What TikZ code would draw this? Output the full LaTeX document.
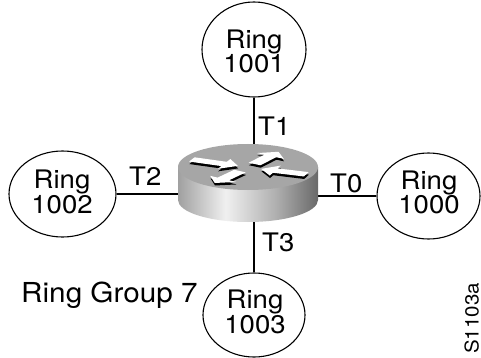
\documentclass[tikz,border=0pt]{standalone}
\usepackage{fontspec}
\setmainfont[FakeStretch=1.08]{TeX Gyre Heros}
\usetikzlibrary{shapes.geometric}
\definecolor{sideA}{RGB}{160,160,160}
\definecolor{sideB}{RGB}{240,240,240}
\definecolor{sideC}{RGB}{175,175,175}
\definecolor{sideD}{RGB}{105,105,105}
\definecolor{topC}{RGB}{166,166,166}
\pgfdeclarehorizontalshading{rtside}{100bp}{color(0bp)=(sideA); color(25bp)=(sideA); color(42bp)=(sideB); color(60bp)=(sideC); color(75bp)=(sideD); color(100bp)=(sideD)}
\tikzset{
  ring/.style={draw, ellipse, line width=1.1pt, fill=white, inner sep=0pt},
  rtext/.style={inner sep=0pt, align=center, font=\fontsize{25.5}{23.5}\selectfont},
  tlabel/.style={anchor=base west, inner sep=0pt, font=\fontsize{25.5}{26}\selectfont},
  link/.style={line width=1.1pt},
  arrw/.style={fill=white},
  arrs/.style={fill=black},
}
\newcommand\rtarrow[5]{%
  \begin{scope}[rotate=#1]
    \fill[#5] (#2,-7) -- ({#3-#4},-7) -- ({#3-#4},-16) -- (#3,0) -- ({#3-#4},16) -- ({#3-#4},7) -- (#2,7) -- cycle;
  \end{scope}}
\begin{document}
\begin{tikzpicture}[x=1pt, y=-1pt]
  \useasboundingbox[fill=white] (0,0) rectangle (481,358);
  % rings
  \node[ring, minimum width=104, minimum height=95] (r1001) at (254,49.5) {};
  \node[ring, minimum width=107, minimum height=86] (r1002) at (62.5,194) {};
  \node[ring, minimum width=103, minimum height=86] (r1000) at (428.5,196) {};
  \node[ring, minimum width=102, minimum height=84] (r1003) at (254,315) {};
  \node[rtext] (l1001) at (254,51.5) {Ring\\1001};
  \node[rtext] (l1002) at (62,192) {Ring\\1002};
  \node[rtext] (l1000) at (429,192.5) {Ring\\1000};
  \node[rtext] (l1003) at (255,312) {Ring\\1003};
  % router
  \coordinate (rt) at (248,183);
  \draw[link] (r1001) -- (r1001 |- rt);
  \draw[link] (r1002) -- (r1002 -| rt);
  \draw[link] (r1000) -- (r1000 -| rt);
  \draw[link] (r1003) -- (r1003 |- rt);
  \path[shading=rtside] (178,167) -- (178,200) arc[start angle=180, end angle=0, x radius=70, y radius=22] -- (318,167) -- cycle;
  \fill[topC] (248,167) ellipse [x radius=70, y radius=23];
  \begin{scope}[shift={(248.3,169.8)}, yscale=0.33]
    \rtarrow{157}{61}{11}{-15}{arrs}
    \rtarrow{-20}{62}{14}{-15}{arrs}
    \rtarrow{57}{12}{56}{15}{arrs}
    \rtarrow{-125}{14}{58}{15}{arrs}
  \end{scope}
  \begin{scope}[shift={(248,167.3)}, yscale=0.33]
    \rtarrow{157}{61}{11}{-15}{arrw}
    \rtarrow{-20}{62}{14}{-15}{arrw}
    \rtarrow{57}{12}{56}{15}{arrw}
    \rtarrow{-125}{14}{58}{15}{arrw}
  \end{scope}
  % labels
  \node[tlabel] (t1) at (258,136) {T1};
  \node[tlabel] (t2) at (129,185) {T2};
  \node[tlabel] (t0) at (330,192) {T0};
  \node[tlabel] (t3) at (262,251) {T3};
  \node[anchor=base west, inner sep=0pt, font=\fontsize{27.5}{30}\selectfont] (rg) at (21,302) {Ring Group 7};
  \node[rotate=90, anchor=base west, inner sep=0pt, font=\fontsize{19}{20}\selectfont] (fig) at (478.5,354) {S1103a};
\end{tikzpicture}
\end{document}
